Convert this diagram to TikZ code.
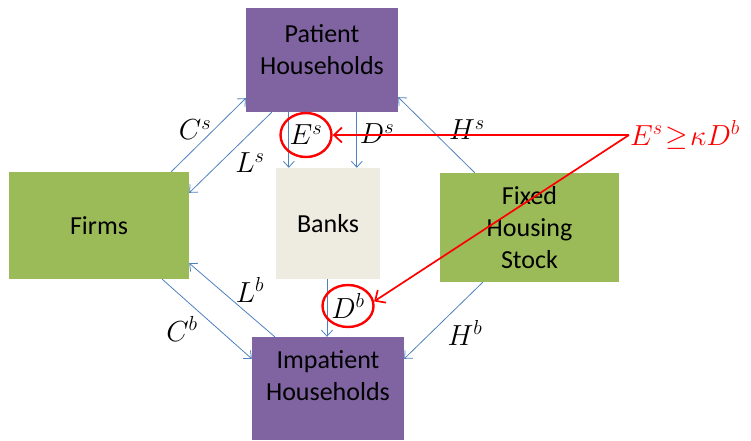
\documentclass[tikz,border=0pt]{standalone}
\usepackage{fix-cm}
\usepackage{fontspec}
\setmainfont{Carlito}
\usetikzlibrary{arrows.meta,shapes.geometric}
\definecolor{boxpurple}{HTML}{8064A2}
\definecolor{boxgreen}{HTML}{9BBB59}
\definecolor{boxbeige}{HTML}{EEECE1}
\definecolor{flowblue}{HTML}{4F81BD}

\begin{document}
\begin{tikzpicture}[x=1pt, y=-1pt,
    agent/.style={inner sep=0pt, align=center, font=\fontsize{26}{32}\selectfont},
    flow/.style={draw=flowblue, line width=0.8pt, -{Straight Barb[length=6pt,width=11pt]}},
    lbl/.style={inner sep=1pt, font=\fontsize{29}{34}\selectfont},
    ring/.style={ellipse, draw=red, line width=2.4pt, inner sep=0pt},
    link/.style={draw=red, line width=1.7pt, -{Straight Barb[length=8pt,width=15pt]}}]
    \useasboundingbox (0,0) rectangle (751,440);

    % Settori
    \node[agent, fill=boxpurple, minimum width=152pt, minimum height=104pt, text depth=20pt] (pat) at (322,60) {Patient\\Households};
    \node[agent, fill=boxgreen, minimum width=180pt, minimum height=107pt] (firms) at (99,225.5) {Firms};
    \node[agent, fill=boxbeige, minimum width=104pt, minimum height=111pt] (banks) at (328,223.5) {Banks};
    \node[agent, fill=boxgreen, minimum width=179pt, minimum height=109pt] (fixed) at (529.5,227.5) {Fixed\\Housing\\Stock};
    \node[agent, fill=boxpurple, minimum width=152pt, minimum height=103pt, text depth=25pt] (imp) at (328,388.5) {Impatient\\Households};

    % Flussi (blu)
    \draw[flow] ([xshift=-18pt]firms.north east) -- ([yshift=14pt]pat.south west);
    \draw[flow] ([xshift=26pt]pat.south west) -- ([yshift=-21pt]firms.north east);
    \draw[flow] ([xshift=43pt]pat.south west) -- ([xshift=13pt]banks.north west);
    \draw[flow] ([xshift=111pt]pat.south west) -- ([xshift=81pt]banks.north west);
    \draw[flow] ([xshift=35pt]fixed.north west) -- ([yshift=15pt]pat.south east);
    \draw[flow] ([xshift=23pt]imp.north west) -- ([yshift=16pt]firms.south east);
    \draw[flow] ([xshift=-27pt]firms.south east) -- ([yshift=-22pt]imp.north west);
    \draw[flow] ([xshift=-1pt]banks.south) -- ([xshift=-1pt]imp.north);
    \draw[flow] ([xshift=43pt]fixed.south west) -- ([yshift=-22pt]imp.north east);

    % Etichette
    \node[lbl] (cs) at (195,130) {$C^s$};
    \node[lbl] (ls) at (250,163) {$L^s$};
    \node[lbl, ring, minimum width=51pt, minimum height=44pt] (es) at (306,135) {$E^s$};
    \node[lbl] (ds) at (377,134) {$D^s$};
    \node[lbl] (hs) at (467,130) {$H^s$};
    \node[lbl] (lb) at (250,290) {$L^b$};
    \node[lbl, ring, minimum width=51pt, minimum height=42pt] (db) at (348,306) {$D^b$};
    \node[lbl] (cb) at (182,329) {$C^b$};
    \node[lbl] (hb) at (465,333) {$H^b$};

    % Vincolo (rosso)
    \node[lbl, text=red, anchor=west] (cond) at (629,135) {$E^s\mkern-3.5mu\geq\mkern-3.5mu\kappa D^b$};
    \draw[link] (cond.west) -- (cond.west -| es.east);
    \draw[link] (cond.west) -- (db.10);
\end{tikzpicture}
\end{document}
